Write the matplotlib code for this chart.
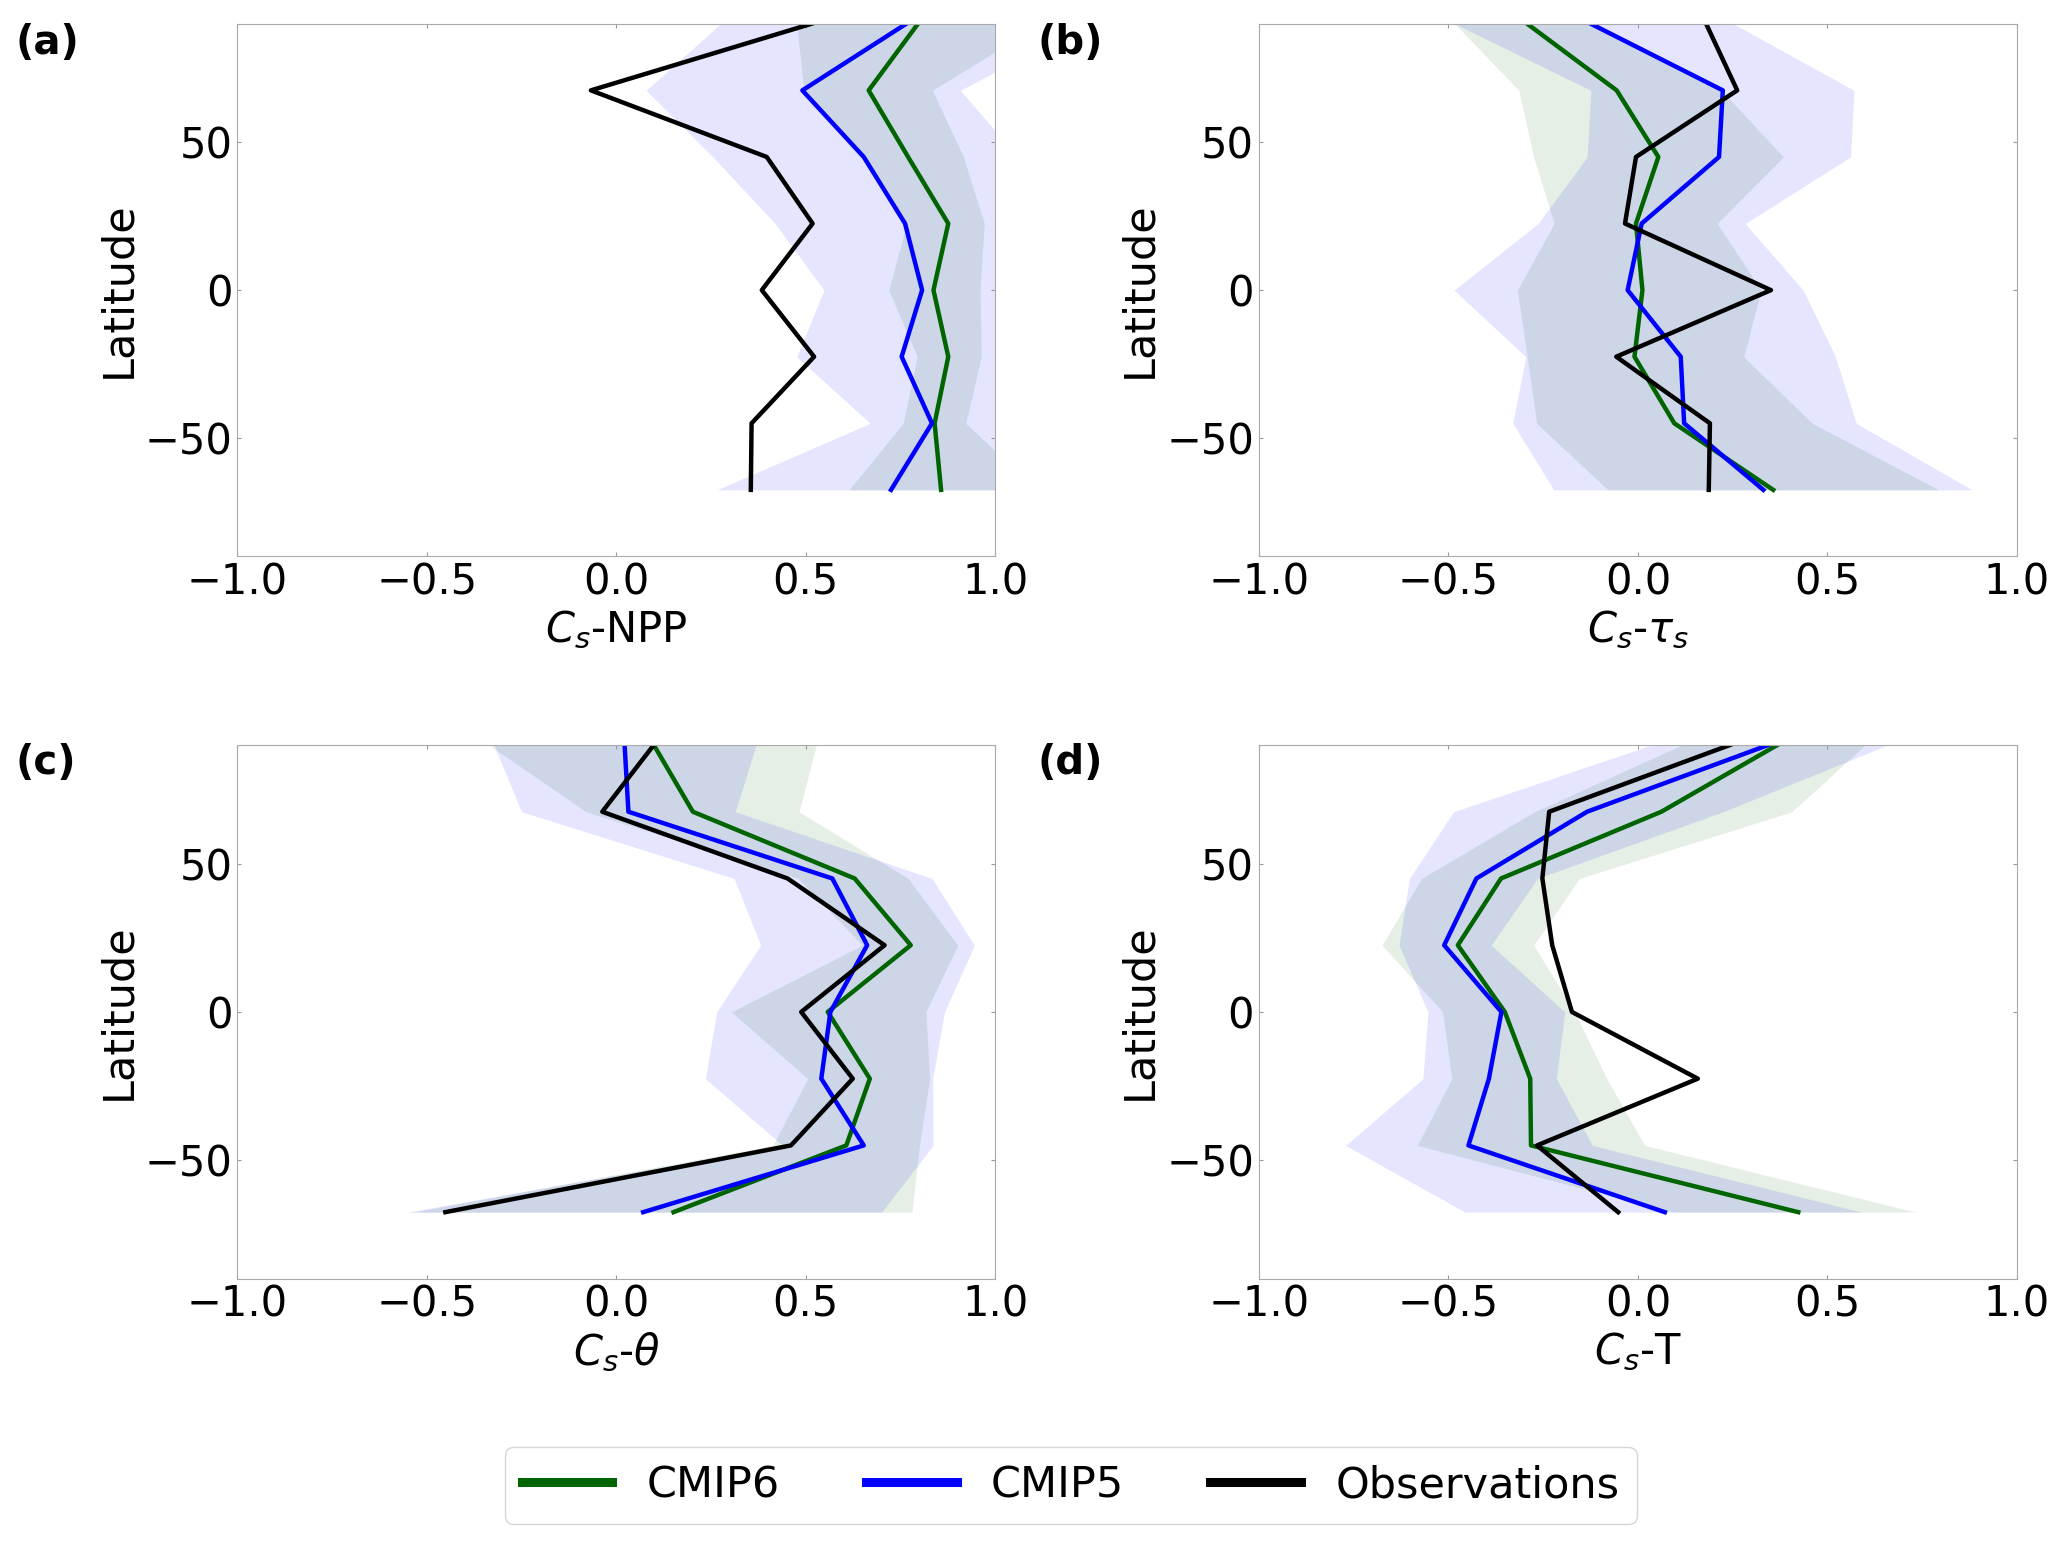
import matplotlib
matplotlib.use("Agg")
import matplotlib.pyplot as plt
from matplotlib.lines import Line2D

# latitude bands (centres), south to north
lat = [-67.5, -45, -22.5, 0, 22.5, 45, 67.5, 90]

# (a) Cs-NPP
a_obs = [0.355, 0.357, 0.522, 0.384, 0.518, 0.397, -0.067, 0.515]
a_cmip5 = [0.725, 0.833, 0.753, 0.807, 0.762, 0.653, 0.491, 0.765]
a_cmip6 = [0.857, 0.840, 0.876, 0.837, 0.876, 0.770, 0.666, 0.796]
a_cmip5_lo = [0.265, 0.670, 0.476, 0.548, 0.419, 0.255, 0.079, 0.275]
a_cmip5_hi = [1.15, 1.05, 1.08, 1.10, 1.08, 1.06, 0.908, 1.24]
a_cmip6_lo = [0.614, 0.757, 0.794, 0.719, 0.766, 0.656, 0.495, 0.476]
a_cmip6_hi = [1.11, 0.922, 0.963, 0.960, 0.971, 0.916, 0.834, 1.12]

# (b) Cs-tau_s
b_obs = [0.187, 0.190, -0.057, 0.351, -0.034, -0.005, 0.262, 0.180]
b_cmip5 = [0.331, 0.122, 0.113, -0.027, 0.010, 0.214, 0.224, -0.124]
b_cmip6 = [0.357, 0.096, -0.009, 0.012, -0.005, 0.054, -0.056, -0.292]
b_cmip5_lo = [-0.222, -0.330, -0.296, -0.485, -0.263, -0.134, -0.124, -0.483]
b_cmip5_hi = [0.882, 0.576, 0.521, 0.436, 0.283, 0.561, 0.570, 0.252]
b_cmip6_lo = [-0.079, -0.267, -0.292, -0.318, -0.221, -0.275, -0.314, -0.483]
b_cmip6_hi = [0.794, 0.460, 0.279, 0.325, 0.209, 0.384, 0.220, -0.120]

# (c) Cs-theta
c_obs = [-0.451, 0.461, 0.624, 0.488, 0.708, 0.452, -0.037, 0.099]
c_cmip5 = [0.071, 0.653, 0.541, 0.565, 0.662, 0.570, 0.032, 0.022]
c_cmip6 = [0.151, 0.607, 0.669, 0.558, 0.777, 0.629, 0.202, 0.099]
c_cmip5_lo = [-0.551, 0.439, 0.235, 0.265, 0.381, 0.311, -0.250, -0.323]
c_cmip5_hi = [0.700, 0.836, 0.835, 0.866, 0.945, 0.833, 0.314, 0.369]
c_cmip6_lo = [-0.535, 0.413, 0.505, 0.304, 0.649, 0.480, -0.080, -0.336]
c_cmip6_hi = [0.780, 0.800, 0.827, 0.817, 0.901, 0.770, 0.482, 0.528]

# (d) Cs-T
d_obs = [-0.052, -0.266, 0.158, -0.174, -0.226, -0.252, -0.234, 0.243]
d_cmip5 = [0.071, -0.447, -0.393, -0.360, -0.511, -0.426, -0.134, 0.344]
d_cmip6 = [0.423, -0.282, -0.284, -0.351, -0.475, -0.361, 0.062, 0.368]
d_cmip5_lo = [-0.456, -0.771, -0.567, -0.554, -0.630, -0.603, -0.486, 0.036]
d_cmip5_hi = [0.591, -0.120, -0.215, -0.193, -0.387, -0.265, 0.225, 0.659]
d_cmip6_lo = [0.094, -0.582, -0.491, -0.515, -0.675, -0.571, -0.272, 0.116]
d_cmip6_hi = [0.733, 0.018, -0.082, -0.167, -0.275, -0.154, 0.406, 0.600]

panels = [
    ("(a)", r"$C_s$-NPP", a_obs, a_cmip5, a_cmip6, a_cmip5_lo, a_cmip5_hi, a_cmip6_lo, a_cmip6_hi),
    ("(b)", r"$C_s$-$\tau_s$", b_obs, b_cmip5, b_cmip6, b_cmip5_lo, b_cmip5_hi, b_cmip6_lo, b_cmip6_hi),
    ("(c)", r"$C_s$-$\theta$", c_obs, c_cmip5, c_cmip6, c_cmip5_lo, c_cmip5_hi, c_cmip6_lo, c_cmip6_hi),
    ("(d)", r"$C_s$-T", d_obs, d_cmip5, d_cmip6, d_cmip5_lo, d_cmip5_hi, d_cmip6_lo, d_cmip6_hi),
]

plt.rcParams["font.size"] = 30
plt.rcParams["mathtext.fontset"] = "dejavusans"

fig = plt.figure(figsize=(20.67, 15.44), dpi=100)

# axes boxes [left, bottom, width, height] in figure fractions
boxes = [
    [0.1148, 0.6396, 0.3667, 0.3450],
    [0.6090, 0.6396, 0.3668, 0.3450],
    [0.1148, 0.1717, 0.3667, 0.3458],
    [0.6090, 0.1717, 0.3668, 0.3458],
]
label_pos = [(0.0077, 0.985), (0.502, 0.985), (0.0077, 0.519), (0.502, 0.519)]

for box, lpos, p in zip(boxes, label_pos, panels):
    tag, xlab, obs, m5, m6, m5lo, m5hi, m6lo, m6hi = p
    ax = fig.add_axes(box)
    ax.fill_betweenx(lat, m6lo, m6hi, color="darkgreen", alpha=0.1, lw=0)
    ax.fill_betweenx(lat, m5lo, m5hi, color="blue", alpha=0.1, lw=0)
    ax.plot(m6, lat, color="darkgreen", lw=3.2)
    ax.plot(m5, lat, color="blue", lw=3.2)
    ax.plot(obs, lat, color="black", lw=3.2)
    ax.set_xlim(-1, 1)
    ax.set_ylim(-90, 90)
    ax.set_xticks([-1.0, -0.5, 0.0, 0.5, 1.0])
    ax.set_yticks([-50, 0, 50])
    ax.set_xlabel(xlab)
    ax.set_ylabel("Latitude", fontsize=31)
    ax.tick_params(direction="in", top=True, right=True, length=3, color="#999999")
    for s in ax.spines.values():
        s.set_color("#aaaaaa")
    fig.text(lpos[0], lpos[1], tag, fontweight="bold", ha="left", va="top", fontsize=29)

handles = [
    Line2D([], [], color="darkgreen", lw=6.5),
    Line2D([], [], color="blue", lw=6.5),
    Line2D([], [], color="black", lw=6.5),
]
fig.legend(handles, ["CMIP6", "CMIP5", "Observations"], loc="center",
           bbox_to_anchor=(0.518, 0.038), ncol=3, handlelength=2.1,
           fontsize=31)

fig.savefig("out.png", dpi=100)
